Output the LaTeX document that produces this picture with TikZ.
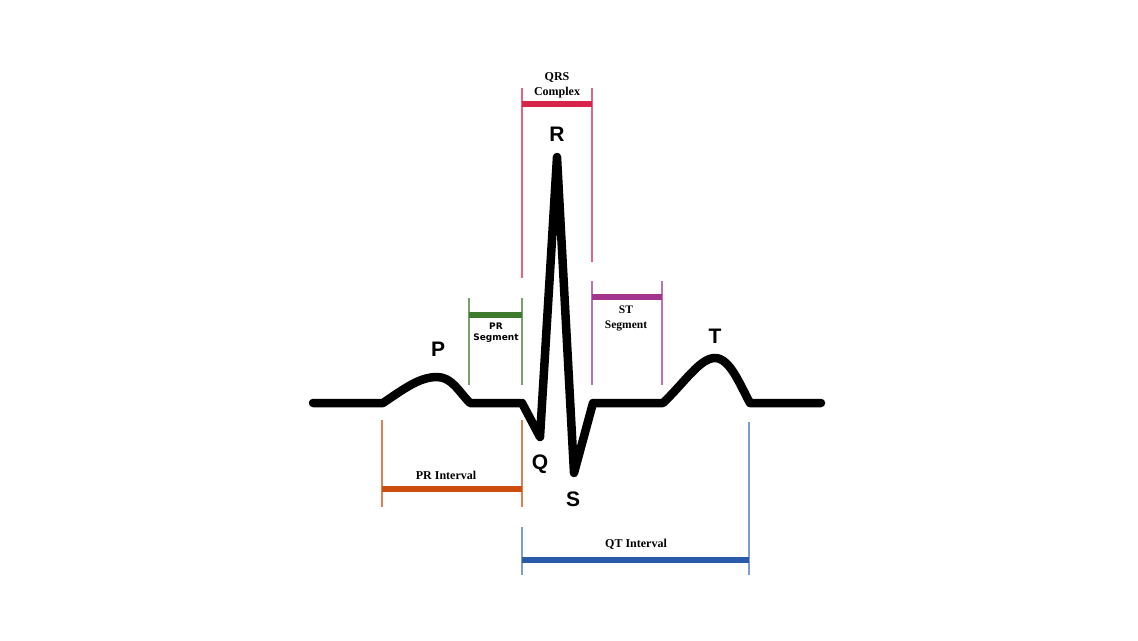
\documentclass[tikz,border=0pt]{standalone}
\usepackage{fontspec}
\setmainfont{Liberation Serif}
\newfontfamily\wavefont{Liberation Sans}
\newfontfamily\segfont{DejaVu Sans}
\definecolor{qrscol}{HTML}{D8234A}
\definecolor{prsegcol}{HTML}{3F7A2C}
\definecolor{stsegcol}{HTML}{A4358F}
\definecolor{printcol}{HTML}{CC4D0C}
\definecolor{qtintcol}{HTML}{2A5BA8}
\tikzset{
  wave/.style={line width=8.5pt, line cap=round, line join=round},
  tick/.style={line width=1.2pt},
  bar/.style={line width=6.5pt},
  lbl/.style={font=\bfseries\fontsize{12}{15}\selectfont, align=center, inner sep=0pt},
  peak/.style={font=\wavefont\bfseries\fontsize{21}{21}\selectfont, inner sep=0pt}
}
\begin{document}
\begin{tikzpicture}[x=1pt,y=-1pt]
  \useasboundingbox (0,0) rectangle (1138,640);

  % waveform
  \draw[wave] (313,403) -- (383,403)
    .. controls (405,388) and (420,377) .. (437,377)
    .. controls (452,377) and (459,392) .. (470,403)
    -- (522,403) -- (540,437) -- (557,157) -- (574,473) -- (593,403)
    -- (663,403)
    .. controls (685,382) and (700,358) .. (715,358)
    .. controls (730,358) and (740,385) .. (750,403)
    -- (821,403);

  % QRS complex
  \draw[tick, qrscol!70] (522,88) -- (522,278);
  \draw[tick, qrscol!70] (592,88) -- (592,262);
  \draw[bar, qrscol] (522,104) -- (592,104);
  \node[lbl] (qrs) at (557,85) {QRS\\Complex};

  % PR segment
  \draw[tick, prsegcol!70] (469,298) -- (469,385);
  \draw[tick, prsegcol!70] (522,298) -- (522,385);
  \draw[bar, prsegcol] (469,315) -- (522,315);
  \node[lbl, font=\segfont\bfseries\fontsize{9}{11}\selectfont] (prseg) at (496,333) {PR\\Segment};

  % ST segment
  \draw[tick, stsegcol!70] (592,281) -- (592,385);
  \draw[tick, stsegcol!70] (662,281) -- (662,385);
  \draw[bar, stsegcol] (592,297) -- (662,297);
  \node[lbl, font=\bfseries\fontsize{11.5}{15}\selectfont] (stseg) at (626,318) {ST\\Segment};

  % PR interval
  \draw[tick, printcol!70] (382,420) -- (382,507);
  \draw[tick, printcol!70] (522,420) -- (522,507);
  \draw[bar, printcol] (382,489) -- (522,489);
  \node[lbl] (print) at (446,475) {PR Interval};

  % QT interval
  \draw[tick, qtintcol!60] (522,527) -- (522,575);
  \draw[tick, qtintcol!60] (749,422) -- (749,575);
  \draw[bar, qtintcol] (522,560) -- (749,560);
  \node[lbl] (qtint) at (636,544) {QT Interval};

  \node[peak] (p) at (438,349) {P};
  \node[peak] (q) at (540,464) {Q};
  \node[peak] (r) at (557,134) {R};
  \node[peak] (s) at (573,499) {S};
  \node[peak] (t) at (715,336) {T};

\end{tikzpicture}
\end{document}
